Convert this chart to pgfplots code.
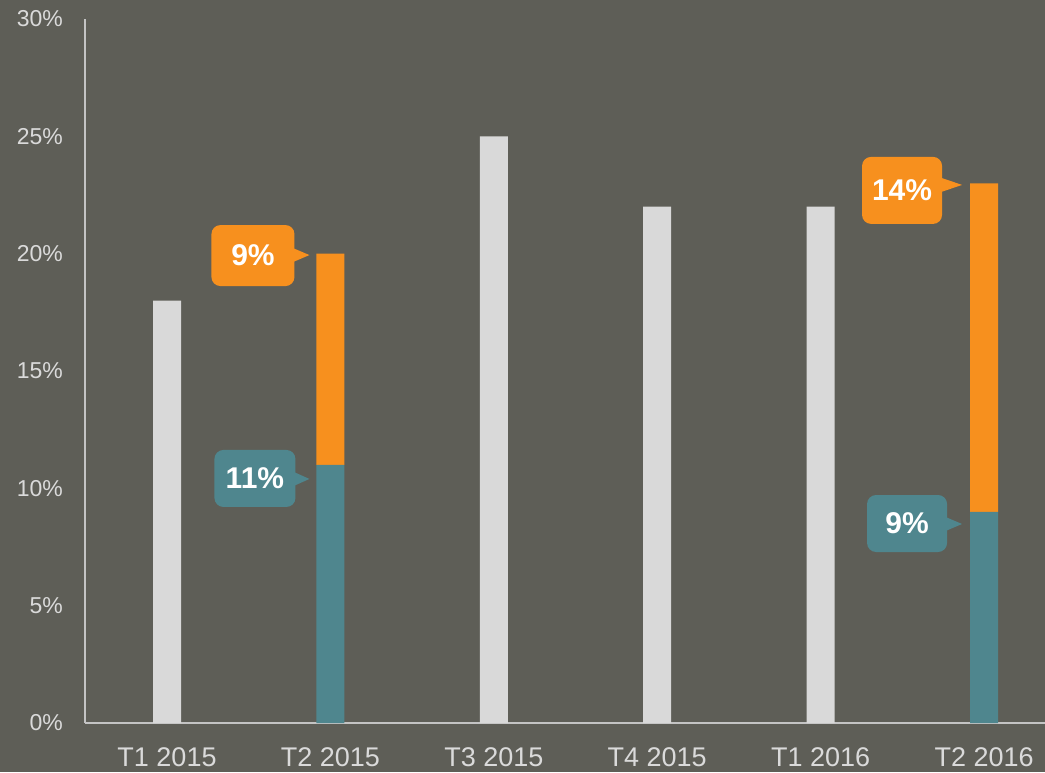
\documentclass[border=0pt]{standalone}
\usepackage{pgfplots}
\pgfplotsset{compat=1.18}
\usepackage{fontspec}
\setmainfont{Liberation Sans}

\definecolor{bg}{HTML}{5E5E57}
\definecolor{barlight}{HTML}{D9D9D9}
\definecolor{teal2}{HTML}{4F868E}
\definecolor{orng}{HTML}{F7901E}
\definecolor{axisgray}{HTML}{C4C4C4}
\definecolor{labelgray}{HTML}{DADADA}

% callout: #1 = anchor coordinate, #2 colour, #3 text, #4 left, #5 right, #6 bottom, #7 top (pt, relative to tip)
\newcommand{\callout}[7]{%
  \begin{scope}[shift={(#1)}]
    \fill[#2, rounded corners=9pt] (#4pt,#6pt) rectangle (#5pt,#7pt);
    \fill[#2] ({(#5-5)*1pt},-8.5pt) -- (0pt,0pt) -- ({(#5-5)*1pt},8.5pt) -- cycle;
    \node[text=white, inner sep=0pt, font=\bfseries\fontsize{30}{36}\selectfont]
      at ({(#4+#5)/2*1pt},{(#6+#7)/2*1pt}) {#3};
  \end{scope}}

\begin{document}
\begin{tikzpicture}
\fill[bg] (0,0) rectangle (1045pt,772pt);
\begin{axis}[
  at={(85pt,49pt)}, anchor=south west,
  scale only axis, width=960pt, height=704pt,
  xmin=-0.502, xmax=5.373, ymin=0, ymax=30,
  ybar stacked, bar width=28pt,
  axis x line=bottom, axis y line=left,
  axis line style={-, draw=axisgray, line width=2pt},
  xtick={0,...,5},
  xticklabels={T1 2015,T2 2015,T3 2015,T4 2015,T1 2016,T2 2016},
  ytick={0,5,...,30},
  yticklabel={\pgfmathprintnumber{\tick}\%},
  major tick length=0pt,
  tick label style={text=labelgray},
  yticklabel style={font=\fontsize{23}{27}\selectfont, inner sep=0pt, xshift=-22pt},
  xticklabel style={font=\fontsize{27}{32}\selectfont, inner sep=0pt, yshift=-24pt},
  /pgf/number format/assume math mode=true,
  clip=false,
]
\addplot[fill=barlight, draw=none] coordinates {(0,18) (1,0) (2,25) (3,22) (4,22) (5,0)};
\addplot[fill=teal2, draw=none] coordinates {(0,0) (1,11) (2,0) (3,0) (4,0) (5,9)};
\addplot[fill=orng, draw=none] coordinates {(0,0) (1,9) (2,0) (3,0) (4,0) (5,14)};

\coordinate (o1) at (axis cs:0.8715,19.94);
\coordinate (t1) at (axis cs:0.8715,10.40);
\coordinate (o2) at (axis cs:4.8654,22.93);
\coordinate (t2) at (axis cs:4.8654,8.48);
\end{axis}

\callout{o1}{orng}{9\%}{-98}{-15}{-31}{30}
\callout{t1}{teal2}{11\%}{-95}{-14}{-28}{29}
\callout{o2}{orng}{14\%}{-100}{-20}{-39}{28}
\callout{t2}{teal2}{9\%}{-95}{-15}{-28}{29}

\pgfresetboundingbox
\useasboundingbox (0,0) rectangle (1045pt,772pt);
\end{tikzpicture}
\end{document}
